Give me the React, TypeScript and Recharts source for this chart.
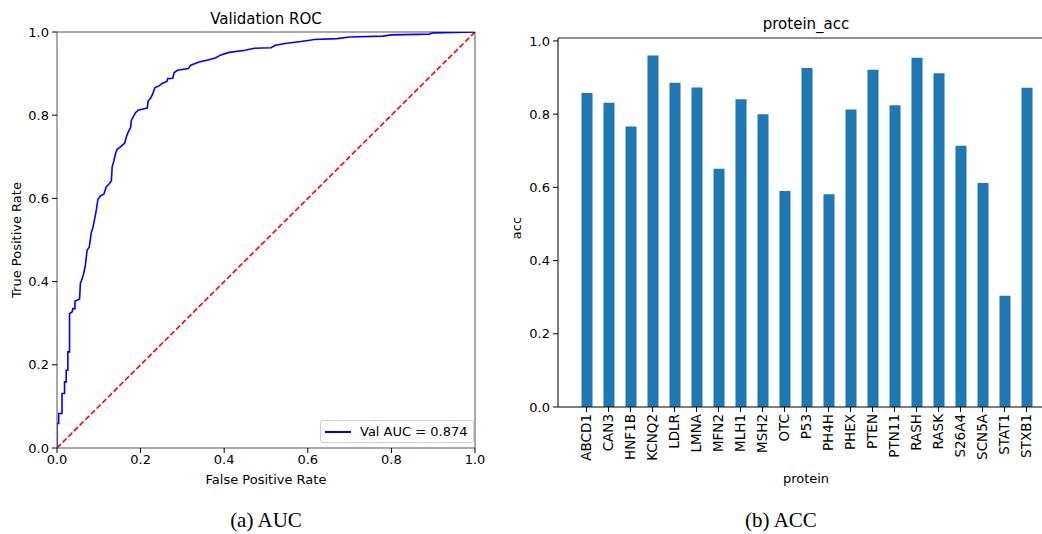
import React from "react";
import {
  LineChart,
  Line,
  BarChart,
  Bar,
  XAxis,
  YAxis,
  Legend,
  ReferenceLine,
} from "recharts";

// ROC curve (false positive rate, true positive rate)
const rocFpr = [
  0, 0, 0.004, 0.004, 0.012, 0.012, 0.018, 0.018, 0.022, 0.022, 0.026, 0.026, 0.03, 0.03,
  0.036, 0.038, 0.043, 0.043, 0.054, 0.056, 0.06, 0.064, 0.068, 0.072, 0.077, 0.082, 0.086,
  0.09, 0.094, 0.098, 0.104, 0.112, 0.118, 0.124, 0.13, 0.132, 0.136, 0.14, 0.144, 0.152,
  0.162, 0.166, 0.171, 0.176, 0.178, 0.183, 0.188, 0.194, 0.206, 0.216, 0.218, 0.224, 0.229,
  0.234, 0.245, 0.252, 0.263, 0.265, 0.277, 0.28, 0.288, 0.314, 0.32, 0.34, 0.366, 0.38,
  0.392, 0.412, 0.45, 0.472, 0.512, 0.522, 0.55, 0.584, 0.616, 0.67, 0.7, 0.78, 0.8, 0.89,
  0.9, 1.0,
];
const rocTpr = [
  0, 0.059, 0.059, 0.083, 0.083, 0.131, 0.131, 0.159, 0.159, 0.187, 0.187, 0.231, 0.231,
  0.323, 0.327, 0.335, 0.335, 0.353, 0.358, 0.396, 0.406, 0.42, 0.44, 0.476, 0.482, 0.518,
  0.53, 0.55, 0.572, 0.598, 0.606, 0.61, 0.628, 0.634, 0.642, 0.676, 0.69, 0.708, 0.718,
  0.724, 0.733, 0.748, 0.761, 0.77, 0.788, 0.797, 0.806, 0.812, 0.815, 0.817, 0.834, 0.841,
  0.851, 0.866, 0.871, 0.877, 0.881, 0.888, 0.889, 0.902, 0.908, 0.912, 0.92, 0.928, 0.934,
  0.938, 0.945, 0.951, 0.956, 0.961, 0.962, 0.968, 0.973, 0.977, 0.982, 0.984, 0.988, 0.99,
  0.993, 0.995, 0.998, 1.0,
];
const chanceFpr = [0, 1];
const chanceTpr = [0, 1];
const rocTicks = [0, 0.2, 0.4, 0.6, 0.8, 1.0];
const aucLabel = "Val AUC = 0.874";

// per-protein accuracy
const proteins = [
  "ABCD1", "CAN3", "HNF1B", "KCNQ2", "LDLR", "LMNA", "MFN2", "MLH1", "MSH2", "OTC", "P53",
  "PH4H", "PHEX", "PTEN", "PTN11", "RASH", "RASK", "S26A4", "SCN5A", "STAT1", "STXB1",
];
const accValues = [
  0.858, 0.831, 0.766, 0.96, 0.886, 0.873, 0.651, 0.841, 0.8, 0.59, 0.926, 0.581, 0.813,
  0.921, 0.824, 0.954, 0.912, 0.714, 0.612, 0.304, 0.872,
];
const accTicks = [0, 0.2, 0.4, 0.6, 0.8, 1.0];
const accMax = 1.008;

const rocData = rocFpr.map((x, i) => ({ fpr: x, tpr: rocTpr[i] }));
const chanceData = chanceFpr.map((x, i) => ({ fpr: x, tpr: chanceTpr[i] }));
const accData = proteins.map((p, i) => ({ protein: p, acc: accValues[i] }));

const FONT = "'DejaVu Sans', sans-serif";
const tickStyle = { fill: "#000", fontSize: 13, fontFamily: FONT };
const fmt = (v: number) => v.toFixed(1);

function Txt({ x, y, size = 13, rotate = false, serif = false, children }: any) {
  return (
    <div
      style={{
        position: "absolute",
        left: x,
        top: y,
        transform: `translate(-50%, -50%)${rotate ? " rotate(-90deg)" : ""}`,
        fontFamily: serif ? "'Liberation Serif', 'Times New Roman', serif" : FONT,
        fontSize: size,
        color: "#000",
        whiteSpace: "nowrap",
        lineHeight: 1,
      }}
    >
      {children}
    </div>
  );
}

function RocLegend() {
  return (
    <div
      style={{
        display: "flex",
        alignItems: "center",
        border: "1px solid #d0d0d0",
        borderRadius: 3,
        background: "#fff",
        padding: "3px 6px 3px 4px",
        fontFamily: FONT,
        fontSize: 13,
        height: 15,
        whiteSpace: "nowrap",
        boxSizing: "content-box",
      }}
    >
      <span style={{ display: "inline-block", width: 26, height: 2, background: "#0000ff", marginRight: 9 }} />
      <span>{aucLabel}</span>
    </div>
  );
}

function ProteinTick({ x, y, payload }: any) {
  return (
    <g transform={`translate(${x},${y})`}>
      <text transform="rotate(-90)" textAnchor="end" dy="0.35em" fontSize={13.5} fontFamily={FONT} fill="#000">
        {payload.value}
      </text>
    </g>
  );
}

export default function App() {
  return (
    <div
      style={{
        position: "absolute",
        left: 0,
        top: 0,
        width: 1042,
        height: 534,
        overflow: "hidden",
        background: "#fff",
      }}
    >
      <div style={{ position: "absolute", left: 0, top: 0 }}>
        <LineChart width={500} height={500} margin={{ top: 32, right: 25, bottom: 22, left: 0 }}>
          <XAxis
            dataKey="fpr"
            type="number"
            domain={[0, 1]}
            ticks={rocTicks}
            tickFormatter={fmt}
            tick={tickStyle}
            stroke="#555"
            tickLine={{ stroke: "#000" }}
            tickSize={5}
            height={30}
            allowDataOverflow
          />
          <YAxis
            dataKey="tpr"
            type="number"
            domain={[0, 1]}
            ticks={rocTicks}
            tickFormatter={fmt}
            tick={tickStyle}
            stroke="#555"
            tickLine={{ stroke: "#000" }}
            tickSize={5}
            tickMargin={3}
            width={57}
            allowDataOverflow
          />
          <ReferenceLine y={1} stroke="#555" strokeWidth={1} />
          <ReferenceLine x={1} stroke="#555" strokeWidth={1} />
          <Line
            data={chanceData}
            dataKey="tpr"
            type="linear"
            stroke="#ff0000"
            strokeWidth={1.6}
            strokeDasharray="5.5 2.5"
            dot={false}
            isAnimationActive={false}
            legendType="none"
          />
          <Line
            data={rocData}
            dataKey="tpr"
            type="linear"
            stroke="#0000ff"
            strokeWidth={1.6}
            dot={false}
            isAnimationActive={false}
          />
          <Legend
            layout="horizontal"
            verticalAlign="middle"
            align="center"
            content={() => <RocLegend />}
            wrapperStyle={{ left: 320, top: 420, width: "auto", height: "auto" }}
          />
        </LineChart>
      </div>

      <div style={{ position: "absolute", left: 500, top: 0 }}>
        <BarChart
          width={570}
          height={500}
          data={accData}
          margin={{ top: 38, right: 15, bottom: 23, left: 0 }}
        >
          <XAxis
            dataKey="protein"
            interval={0}
            tick={<ProteinTick />}
            stroke="#000"
            tickSize={5}
            tickMargin={2}
            height={70}
            padding={{ left: 17.5, right: 17.5 }}
          />
          <YAxis
            type="number"
            domain={[0, accMax]}
            ticks={accTicks}
            tickFormatter={fmt}
            tick={tickStyle}
            stroke="#000"
            tickSize={5}
            tickMargin={3}
            width={58}
            allowDataOverflow
          />
          <ReferenceLine y={accMax} stroke="#222" strokeWidth={1} />
          <Bar dataKey="acc" fill="#1f77b4" barSize={11} isAnimationActive={false} />
        </BarChart>
      </div>

      <Txt x={266} y={19} size={15}>Validation ROC</Txt>
      <Txt x={266} y={479}>False Positive Rate</Txt>
      <Txt x={16} y={240} rotate>True Positive Rate</Txt>
      <Txt x={806} y={24} size={15}>protein_acc</Txt>
      <Txt x={806} y={478}>protein</Txt>
      <Txt x={516} y={228} rotate>acc</Txt>

      <Txt x={266} y={520} size={21} serif>(a) AUC</Txt>
      <Txt x={781} y={520} size={21} serif>(b) ACC</Txt>
    </div>
  );
}
